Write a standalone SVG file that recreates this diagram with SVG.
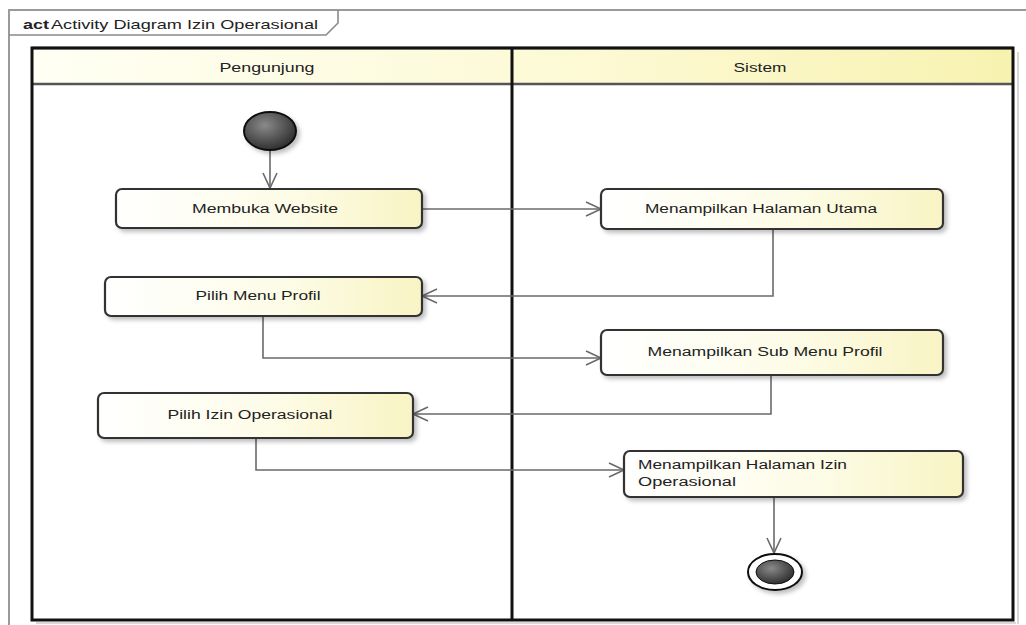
<svg xmlns="http://www.w3.org/2000/svg" width="1026" height="625" viewBox="0 0 1026 625">
<style>
.lbl{font-family:"Liberation Sans",Arial,sans-serif;font-size:12px;fill:#222;}
.node{stroke:#333;stroke-width:2.2;fill:url(#nodeGrad);filter:url(#shadow);}
.conn{fill:none;stroke:#6a6a6a;stroke-width:1.6;marker-end:url(#open);}
.lane{fill:none;stroke:#111;stroke-width:3;}
</style>
<defs>
<linearGradient id="nodeGrad" x1="0" y1="0" x2="1" y2="0">
<stop offset="0" stop-color="#ffffff"/>
<stop offset="0.55" stop-color="#fdfce8"/>
<stop offset="1" stop-color="#f8f4c4"/>
</linearGradient>
<linearGradient id="headGrad" x1="0" y1="0" x2="1" y2="0">
<stop offset="0" stop-color="#fffff4"/>
<stop offset="0.6" stop-color="#fcf9d2"/>
<stop offset="1" stop-color="#f8f2b0"/>
</linearGradient>
<radialGradient id="dark" cx="0.4" cy="0.35" r="0.7">
<stop offset="0" stop-color="#8a8a8a"/>
<stop offset="1" stop-color="#2a2a2a"/>
</radialGradient>
<filter id="shadow" x="-10%" y="-20%" width="125%" height="160%">
<feDropShadow dx="3" dy="3" stdDeviation="2" flood-color="#000" flood-opacity="0.25"/>
</filter>
<marker id="open" markerUnits="userSpaceOnUse" markerWidth="20" markerHeight="20" viewBox="-16 -10 20 20" refX="0" refY="0" orient="auto">
<path d="M-15,-7 L0,0 L-15,7" fill="none" stroke="#6a6a6a" stroke-width="1.6"/>
</marker>
</defs>

<g id="frame">
<rect x="9" y="10" width="1030" height="640" fill="#fff" stroke="#9a9a9a" stroke-width="2"/>
<path d="M9,35 L326,35 L338,23 L338,10" fill="none" stroke="#8a8a8a" stroke-width="1.6"/>
<text x="23" y="29" class="lbl" style="font-weight:bold;font-size:13px" textLength="26" lengthAdjust="spacingAndGlyphs">act</text>
<text x="51" y="29" class="lbl" style="font-size:13px" textLength="267" lengthAdjust="spacingAndGlyphs">Activity Diagram Izin Operasional</text>
</g>

<g id="swimlanes">
<rect x="32" y="48" width="981" height="36" fill="url(#headGrad)"/>
<line x1="32" y1="84" x2="1013" y2="84" stroke="#555" stroke-width="2.5"/>
<line x1="32" y1="48" x2="1013" y2="48" stroke="#555" stroke-width="2.5"/>
<line x1="1018" y1="52" x2="1018" y2="624" stroke="#ccc" stroke-width="1.5"/>
<line x1="36" y1="623" x2="1016" y2="623" stroke="#ccc" stroke-width="1.5"/>
<rect x="32" y="48" width="981" height="572" class="lane"/>
<line x1="512" y1="48" x2="512" y2="620" stroke="#111" stroke-width="3"/>
<text x="267" y="72" class="lbl" text-anchor="middle" textLength="95" lengthAdjust="spacingAndGlyphs">Pengunjung</text>
<text x="760" y="72" class="lbl" text-anchor="middle" textLength="53" lengthAdjust="spacingAndGlyphs">Sistem</text>
</g>

<g id="connectors">
<path class="conn" d="M270,150 L270,188"/>
<path class="conn" d="M422,209 L601,209"/>
<path class="conn" d="M773,229 L773,296 L422,296"/>
<path class="conn" d="M263,316 L263,358 L601,358"/>
<path class="conn" d="M771,375 L771,414 L413,414"/>
<path class="conn" d="M256,438 L256,470 L624,470"/>
<path class="conn" d="M774,497 L774,553"/>
</g>

<g id="initial">
<ellipse cx="270" cy="131" rx="26" ry="19" fill="url(#dark)" stroke="#111" stroke-width="2" filter="url(#shadow)"/>
</g>

<g id="membuka-website">
<rect x="116" y="189" width="306" height="39" rx="6" class="node"/>
<text x="265" y="213" class="lbl" text-anchor="middle" textLength="146" lengthAdjust="spacingAndGlyphs">Membuka Website</text>
</g>

<g id="halaman-utama">
<rect x="601" y="189" width="342" height="40" rx="6" class="node"/>
<text x="761" y="213" class="lbl" text-anchor="middle" textLength="232" lengthAdjust="spacingAndGlyphs">Menampilkan Halaman Utama</text>
</g>

<g id="pilih-menu-profil">
<rect x="105" y="277" width="317" height="39" rx="6" class="node"/>
<text x="258" y="300" class="lbl" text-anchor="middle" textLength="125" lengthAdjust="spacingAndGlyphs">Pilih Menu Profil</text>
</g>

<g id="sub-menu-profil">
<rect x="601" y="330" width="342" height="45" rx="6" class="node"/>
<text x="765" y="356" class="lbl" text-anchor="middle" textLength="235" lengthAdjust="spacingAndGlyphs">Menampilkan Sub Menu Profil</text>
</g>

<g id="pilih-izin-operasional">
<rect x="98" y="393" width="315" height="45" rx="6" class="node"/>
<text x="250" y="419" class="lbl" text-anchor="middle" textLength="165" lengthAdjust="spacingAndGlyphs">Pilih Izin Operasional</text>
</g>

<g id="halaman-izin-operasional">
<rect x="624" y="451" width="339" height="46" rx="6" class="node"/>
<text x="638" y="469" class="lbl" textLength="209" lengthAdjust="spacingAndGlyphs">Menampilkan Halaman Izin</text>
<text x="638" y="486" class="lbl" textLength="98" lengthAdjust="spacingAndGlyphs">Operasional</text>
</g>

<g id="final">
<ellipse cx="775" cy="572" rx="27" ry="18" fill="#fff" stroke="#111" stroke-width="2" filter="url(#shadow)"/>
<ellipse cx="775" cy="572" rx="19" ry="12" fill="url(#dark)" stroke="#111" stroke-width="1"/>
</g>
</svg>
